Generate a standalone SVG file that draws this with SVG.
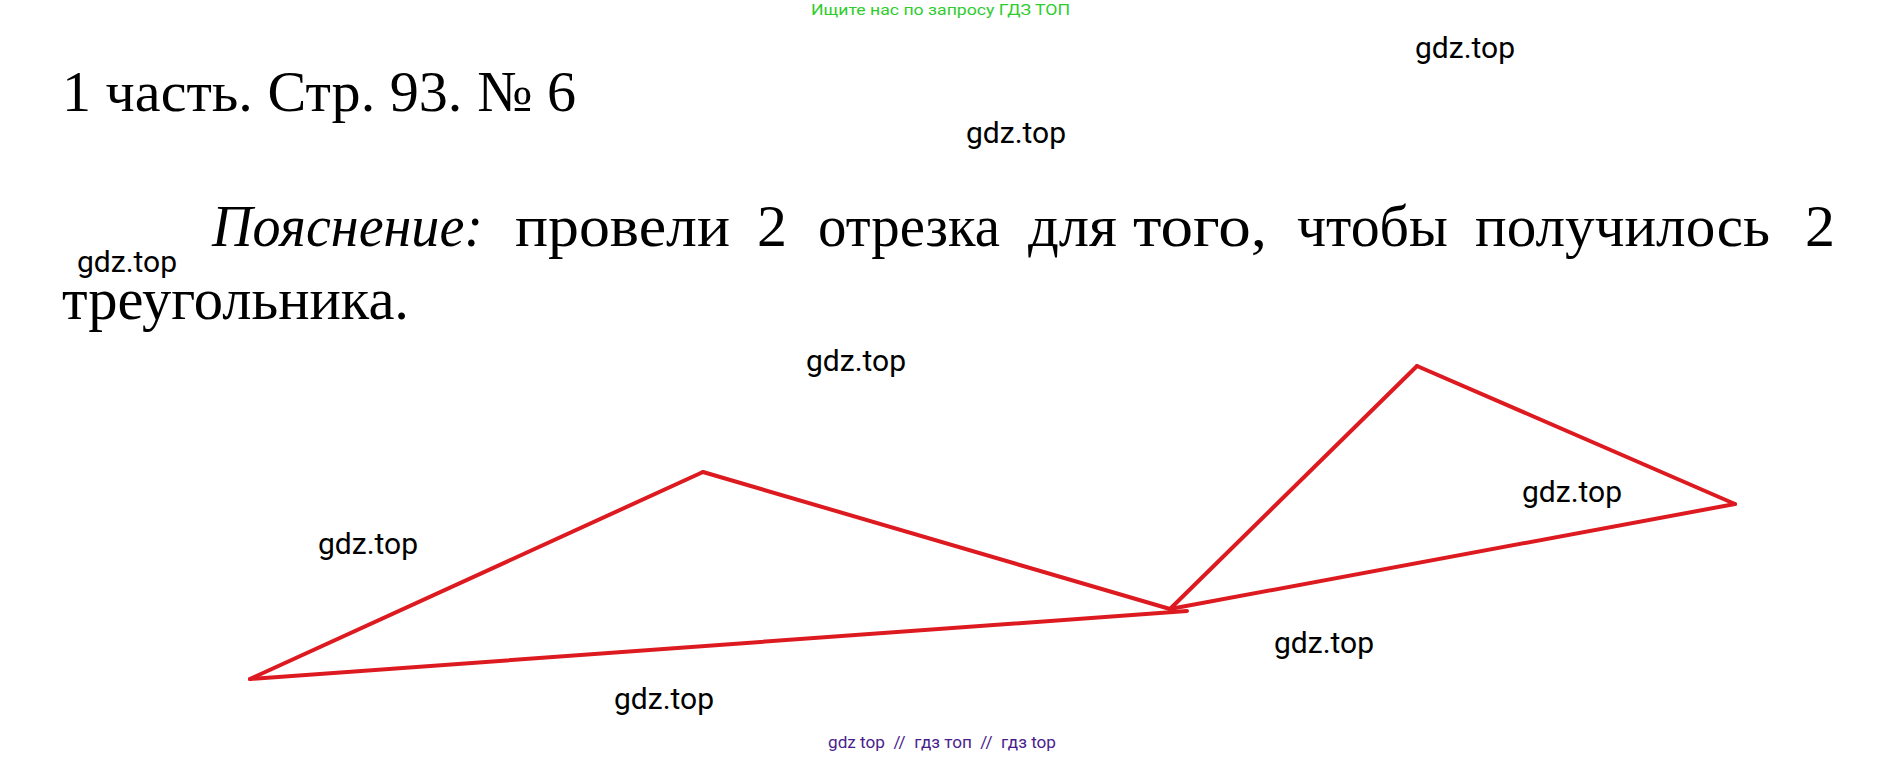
<svg xmlns="http://www.w3.org/2000/svg" width="1884" height="758" viewBox="0 0 1884 758">
  <style>
    .wm { font-family: Roboto, "Liberation Sans", Arial, sans-serif; font-size: 30px; fill: #000; }
    .serif { font-family: "Liberation Serif", "Times New Roman", serif; font-size: 58px; fill: #000; }
    .expl { font-size: 60px; }
    .seg { stroke: #dc1a1f; stroke-width: 4; stroke-linecap: round; stroke-linejoin: miter; fill: none; }
  </style>
  <rect width="1884" height="758" fill="#fff"/>
  <text id="top-note" x="811" y="15" font-family="Roboto, 'Liberation Sans', sans-serif" font-size="15" fill="#2ecc2e" textLength="259" lengthAdjust="spacingAndGlyphs">Ищите нас по запросу ГДЗ ТОП</text>
  <text id="title" class="serif" x="62" y="111" textLength="514" lengthAdjust="spacingAndGlyphs">1 часть. Стр. 93. № 6</text>
  <g id="explanation" class="serif expl">
    <text x="212" y="246" font-style="italic" textLength="271" lengthAdjust="spacingAndGlyphs">Пояснение:</text>
    <text x="515" y="246" textLength="215" lengthAdjust="spacingAndGlyphs">провели</text>
    <text x="757" y="246">2</text>
    <text x="818" y="246" textLength="182" lengthAdjust="spacingAndGlyphs">отрезка</text>
    <text x="1028" y="246" textLength="89" lengthAdjust="spacingAndGlyphs">для</text>
    <text x="1133" y="246" textLength="134" lengthAdjust="spacingAndGlyphs">того,</text>
    <text x="1297" y="246" textLength="151" lengthAdjust="spacingAndGlyphs">чтобы</text>
    <text x="1475" y="246" textLength="295" lengthAdjust="spacingAndGlyphs">получилось</text>
    <text x="1805" y="246">2</text>
    <text x="62" y="319" textLength="347" lengthAdjust="spacingAndGlyphs">треугольника.</text>
  </g>
  <g id="watermarks" class="wm">
    <text x="1415" y="58">gdz.top</text>
    <text x="966" y="143">gdz.top</text>
    <text x="77" y="272">gdz.top</text>
    <text x="806" y="371">gdz.top</text>
    <text x="318" y="554">gdz.top</text>
    <text x="1522" y="502">gdz.top</text>
    <text x="1274" y="653">gdz.top</text>
    <text x="614" y="709">gdz.top</text>
  </g>
  <g id="triangles">
    <g id="triangle-left">
      <line class="seg" x1="250" y1="679" x2="703" y2="472"/>
      <line class="seg" x1="703" y1="472" x2="1170" y2="609"/>
      <line class="seg" x1="250" y1="679" x2="1187" y2="611"/>
    </g>
    <g id="triangle-right">
      <line class="seg" x1="1170" y1="609" x2="1417" y2="366"/>
      <line class="seg" x1="1417" y1="366" x2="1735" y2="504"/>
      <line class="seg" x1="1170" y1="609" x2="1735" y2="504"/>
    </g>
  </g>
  <text id="footer" x="828" y="748" font-family="Roboto, 'Liberation Sans', sans-serif" font-size="16" fill="#4a1d8c" xml:space="preserve" textLength="228" lengthAdjust="spacingAndGlyphs">gdz top  //  гдз топ  //  гдз top</text>
</svg>
